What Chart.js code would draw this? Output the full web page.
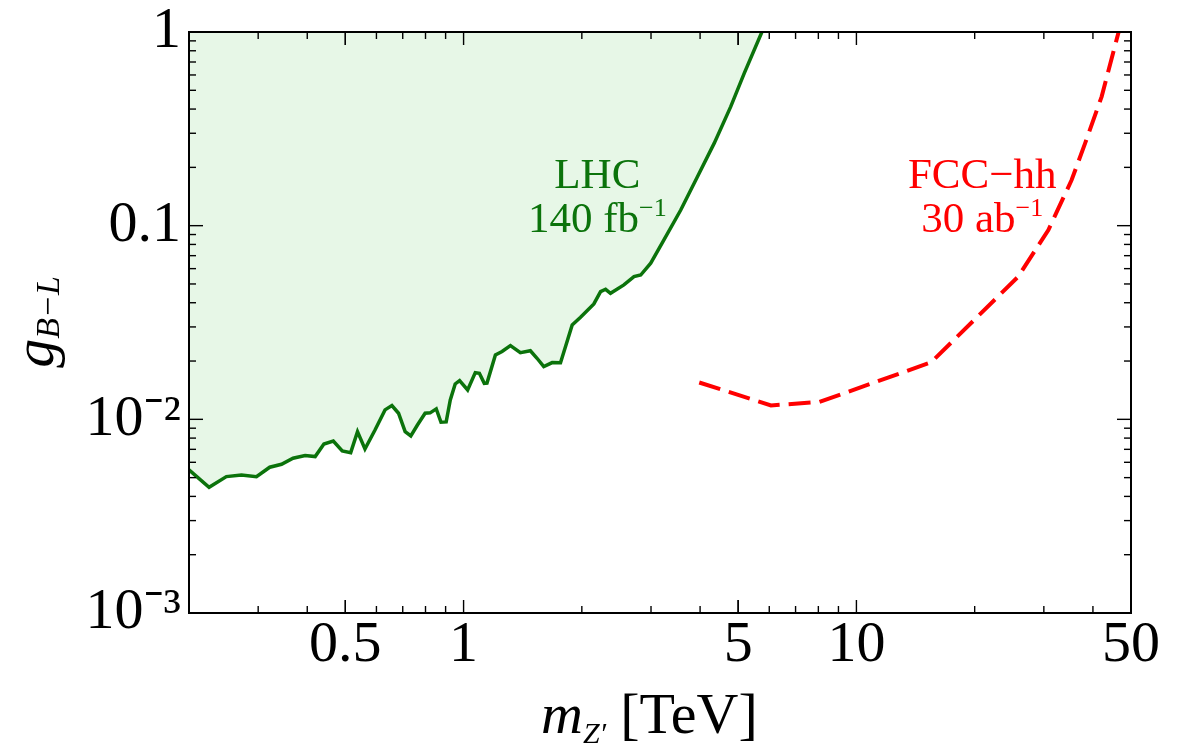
<!DOCTYPE html>
<html lang="en">
<head>
  <meta charset="UTF-8">
  <title>g_B-L vs m_Z'</title>
  <script src="https://cdn.jsdelivr.net/npm/chart.js@4.4.0/dist/chart.umd.min.js"></script>
  <style>
    html, body { margin: 0; padding: 0; background: #fff; }
    .chart-container { width: 1184px; height: 745px; position: relative; }
  </style>
</head>
<body>
  <div class="chart-container">
    <canvas id="myChart"></canvas>
  </div>

  <script>
    // LHC 140 fb^-1 limit
    const lhcMass = [0.2, 0.225, 0.249, 0.272, 0.297, 0.321, 0.344, 0.368, 0.395, 0.419,
      0.441, 0.466, 0.491, 0.516, 0.537, 0.561, 0.595, 0.631, 0.657, 0.683,
      0.710, 0.734, 0.763, 0.798, 0.822, 0.852, 0.876, 0.903, 0.925, 0.952,
      0.977, 1.024, 1.071, 1.097, 1.129, 1.147, 1.205, 1.253, 1.316, 1.395,
      1.479, 1.538, 1.600, 1.681, 1.765, 1.817, 1.890, 1.985, 2.146, 2.232,
      2.299, 2.366, 2.559, 2.715, 2.824, 2.995, 3.236, 3.571, 3.938, 4.343,
      4.787, 5.18, 5.746]
    const lhcCoupling = [0.00548, 0.00446, 0.00506, 0.00516, 0.00506, 0.00566, 0.00586, 0.00630, 0.00650, 0.00642,
      0.00746, 0.00773, 0.00687, 0.00673, 0.00864, 0.00703, 0.00881, 0.01119, 0.01177, 0.01075,
      0.00864, 0.00821, 0.00935, 0.01075, 0.0108, 0.01132, 0.00966, 0.0097, 0.01259, 0.01523,
      0.01585, 0.01419, 0.01742, 0.0173, 0.01535, 0.0154, 0.02151, 0.02239, 0.02402, 0.02210,
      0.0226, 0.02067, 0.01871, 0.01963, 0.0196, 0.02372, 0.03071, 0.03365, 0.03944, 0.04563,
      0.04694, 0.04477, 0.04943, 0.05458, 0.0556, 0.0640, 0.0844, 0.1205, 0.179, 0.266,
      0.4115, 0.612, 1.0]

    // FCC-hh 30 ab^-1 projection
    const fccMass = [3.98, 6.06, 8.05, 15.5, 25.8, 30.8, 35.3, 38.2, 42.1, 46.5]
    const fccCoupling = [0.0155, 0.0118, 0.0123, 0.0197, 0.0545, 0.095, 0.172, 0.266, 0.464, 1.0]

    // axes
    const xMajor = [0.5, 1, 5, 10, 50]
    const xLabels = ['0.5', '1', '5', '10', '50']
    const yMajor = [1, 0.1, 0.01, 0.001]
    const yLabels = ['1', '0.1', '10\u207B\u00B2', '10\u207B\u00B3']

    const serif = "'Liberation Serif', 'Times New Roman', serif"
    const green = '#0b730b'
    const red = '#ff0000'

    // minor tick values, 2..9 in each decade
    const xMinor = []
    const yMinor = []
    ;[0.1, 1, 10].forEach(d => { for (let k = 2; k <= 9; k++) xMinor.push(k * d) })
    ;[0.001, 0.01, 0.1].forEach(d => { for (let k = 2; k <= 9; k++) yMinor.push(k * d) })

    function textWithSup(ctx, base, sup, cx, baseline, size, supSize, raise, color) {
      ctx.fillStyle = color
      ctx.textBaseline = 'alphabetic'
      ctx.textAlign = 'left'
      ctx.font = `${size}px ${serif}`
      const w1 = ctx.measureText(base).width
      ctx.font = `${supSize}px ${serif}`
      const w2 = sup ? ctx.measureText(sup).width : 0
      const x0 = cx - (w1 + w2) / 2
      ctx.font = `${size}px ${serif}`
      ctx.fillText(base, x0, baseline)
      if (sup) {
        ctx.font = `${supSize}px ${serif}`
        ctx.fillText(sup, x0 + w1, baseline - raise)
      }
    }

    // frame, inward ticks on all sides, axis titles and curve labels
    const decorations = {
      id: 'decorations',
      afterDraw(chart) {
        const {ctx, chartArea: a, scales: {x, y}} = chart
        ctx.save()
        ctx.strokeStyle = '#000'
        ctx.lineWidth = 1.4
        const seg = (x1, y1, x2, y2) => { ctx.beginPath(); ctx.moveTo(x1, y1); ctx.lineTo(x2, y2); ctx.stroke() }
        xMajor.concat(xMinor).forEach(v => {
          if (v < x.min || v > x.max) return
          const px = x.getPixelForValue(v)
          const len = xMajor.includes(v) ? 13 : 7
          seg(px, a.bottom, px, a.bottom - len)
          seg(px, a.top, px, a.top + len)
        })
        yMajor.concat(yMinor).forEach(v => {
          const py = y.getPixelForValue(v)
          const len = yMajor.includes(v) ? 14 : 7
          seg(a.left, py, a.left + len, py)
          seg(a.right, py, a.right - len, py)
        })
        ctx.lineWidth = 2
        ctx.strokeRect(a.left, a.top, a.right - a.left, a.bottom - a.top)

        // curve labels, placed in data coordinates
        const lx = x.getPixelForValue(2.19)
        const fx = x.getPixelForValue(20.9)
        const line1 = y.getPixelForValue(0.157)
        const line2 = y.getPixelForValue(0.0928)
        textWithSup(ctx, 'LHC', '', lx, line1, 43, 26, 0, green)
        textWithSup(ctx, '140 fb', '\u22121', lx, line2, 43, 26, 16, green)
        textWithSup(ctx, 'FCC\u2212hh', '', fx, line1, 43, 26, 0, red)
        textWithSup(ctx, '30 ab', '\u22121', fx, line2, 43, 26, 16, red)

        // x title: m_Z' [TeV]
        ctx.fillStyle = '#000'
        ctx.textBaseline = 'alphabetic'
        ctx.textAlign = 'left'
        let tx = 541
        ctx.font = `italic 58px ${serif}`
        ctx.fillText('m', tx, 733)
        tx += ctx.measureText('m').width
        ctx.font = `italic 30px ${serif}`
        ctx.fillText('Z\u2032', tx, 743)
        tx += ctx.measureText('Z\u2032').width + 14
        ctx.font = `58px ${serif}`
        ctx.fillText('[TeV]', tx, 733)

        // y title: g_{B-L}, rotated
        ctx.translate(53, 322)
        ctx.rotate(-Math.PI / 2)
        ctx.font = `italic 58px ${serif}`
        const gw = ctx.measureText('g').width
        ctx.font = `italic 34px ${serif}`
        const sw = ctx.measureText('B\u2212L').width
        const ty = -(gw + sw) / 2
        ctx.font = `italic 58px ${serif}`
        ctx.fillText('g', ty, 0)
        ctx.font = `italic 34px ${serif}`
        ctx.fillText('B\u2212L', ty + gw, 6)
        ctx.restore()
      }
    }

    const ctx = document.getElementById('myChart').getContext('2d')
    const myChart = new Chart(ctx, {
      type: 'line',
      data: {
        datasets: [{
          label: 'LHC 140 fb-1',
          data: lhcMass.map((m, i) => ({x: m, y: lhcCoupling[i]})),
          borderColor: green,
          backgroundColor: '#e7f7e7',
          borderWidth: 3.5,
          fill: 'end',
          pointRadius: 0,
          tension: 0
        }, {
          label: 'FCC-hh 30 ab-1',
          data: fccMass.map((m, i) => ({x: m, y: fccCoupling[i]})),
          borderColor: red,
          borderWidth: 4,
          borderDash: [22, 9],
          fill: false,
          pointRadius: 0,
          tension: 0
        }]
      },
      options: {
        responsive: true,
        maintainAspectRatio: false,
        animation: false,
        layout: { padding: { left: 0, right: 53, top: 32, bottom: 0 } },
        plugins: { legend: { display: false }, tooltip: { enabled: false } },
        scales: {
          x: {
            type: 'logarithmic',
            min: 0.2,
            max: 50,
            afterBuildTicks: scale => { scale.ticks = xMajor.map(v => ({value: v})) },
            afterFit: scale => { scale.height = 132 },
            grid: { display: false, drawTicks: false },
            border: { display: false },
            ticks: {
              autoSkip: false,
              maxRotation: 0,
              padding: 4,
              color: '#000',
              font: { family: serif, size: 58, lineHeight: 1.0 },
              callback: (value) => xLabels[xMajor.indexOf(value)]
            }
          },
          y: {
            type: 'logarithmic',
            min: 0.001,
            max: 1,
            afterBuildTicks: scale => { scale.ticks = yMajor.map(v => ({value: v})) },
            afterFit: scale => { scale.width = 189 },
            grid: { display: false, drawTicks: false },
            border: { display: false },
            ticks: {
              autoSkip: false,
              padding: 8,
              color: '#000',
              font: { family: serif, size: 58, lineHeight: 0.6 },
              callback: (value) => yLabels[yMajor.indexOf(value)]
            }
          }
        }
      },
      plugins: [decorations]
    })
  </script>
</body>
</html>
